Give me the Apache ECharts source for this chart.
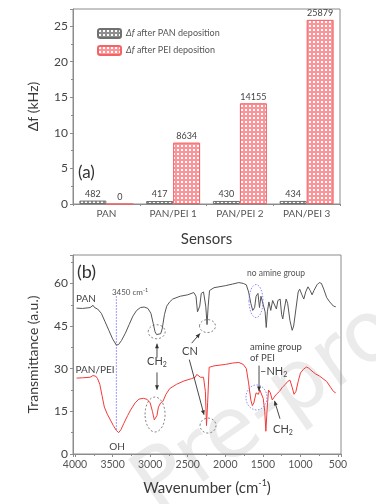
<!DOCTYPE html>
<html><head><meta charset="utf-8">
<script src="https://cdn.jsdelivr.net/npm/echarts@6/dist/echarts.min.js"></script>
<style>html,body{margin:0;padding:0;background:#fff}#c{width:376px;height:504px}</style>
</head><body><div id="c"></div>
<script>
// ---- data ----
const categories = ['PAN', 'PAN/PEI 1', 'PAN/PEI 2', 'PAN/PEI 3'];
const panDepositionHz = [482, 417, 430, 434];
const peiDepositionHz = [0, 8634, 14155, 25879];

const spectrumPAN = [
[3980,51.3],[3900,51.2],[3800,51.5],[3760,52.3],[3740,51.5],[3720,52.0],[3700,51.0],[3650,49.5],[3600,46.5],[3550,43.5],[3500,40.5],[3450,38.3],[3420,38.5],[3380,40],[3330,42.5],[3280,45.5],[3230,48.5],[3180,50.5],[3130,51.5],[3080,51.7],[3030,51.2],[2990,49.5],[2960,46],[2935,43],[2915,42],[2890,42.6],[2860,42.3],[2840,44],[2810,49],[2780,52],[2740,53.5],[2700,54.5],[2600,55.5],[2500,56],[2420,56.8],[2390,55.5],[2370,50],[2355,49.5],[2340,52],[2320,56.5],[2290,57],[2260,52],[2243,45.5],[2228,52],[2210,57.5],[2150,58.5],[2000,59.2],[1900,59.8],[1820,60.3],[1760,60],[1720,59.5],[1690,57],[1660,53],[1635,50.5],[1610,51.5],[1590,55.5],[1565,56.5],[1545,51.5],[1525,55.5],[1505,55.5],[1470,50],[1455,44.5],[1440,50],[1420,53.5],[1395,50.5],[1370,54],[1350,54],[1320,51],[1300,54],[1270,54.5],[1250,49],[1235,47.5],[1215,51],[1190,54.5],[1170,53],[1140,47],[1110,43.5],[1090,45],[1060,51],[1030,57],[1010,58],[980,56],[955,54.5],[930,57],[900,58.8],[870,57.5],[845,56],[820,57.5],[780,59.5],[750,60.3],[720,60],[690,58],[650,55],[610,53.5],[560,52],[530,51.8]
];
const spectrumPANPEI = [
[3980,26.7],[3900,26.8],[3800,27.0],[3760,27.6],[3740,27.0],[3720,27.3],[3700,26.5],[3670,24.5],[3640,20.5],[3610,16.5],[3570,14],[3530,12],[3490,10],[3450,8.3],[3420,7.5],[3390,8.5],[3350,10.8],[3300,13.5],[3260,15.5],[3200,18],[3150,19.3],[3090,19.6],[3040,19.2],[3000,18],[2970,15],[2945,12],[2930,11.3],[2910,13.5],[2890,16.5],[2860,18],[2830,18.5],[2790,21],[2740,23],[2650,24.5],[2550,25.7],[2450,26.5],[2400,27],[2380,28],[2360,27.5],[2330,27],[2290,27],[2265,22],[2250,10],[2235,18],[2215,30.5],[2150,31],[2000,31.5],[1900,32],[1820,32.2],[1760,31.5],[1720,30],[1690,25],[1660,19],[1640,17],[1620,18],[1590,21.5],[1560,21],[1540,22.5],[1515,22],[1495,19.5],[1475,15],[1460,8],[1445,15],[1425,22.5],[1400,21.5],[1375,19],[1350,20],[1320,21],[1280,22],[1240,23.5],[1200,24.5],[1170,25.5],[1140,26],[1110,23.5],[1085,21],[1060,22],[1030,25.5],[1000,28.5],[960,29.8],[920,30.6],[890,30.2],[860,29.5],[830,28.8],[800,28.2],[780,28.6],[750,27.5],[700,26.5],[650,25.5],[600,23.5],[560,22],[530,21.5]
];
const marker3450 = 3450;

// ---- styles ----
const FONT = 'Lato';
function pattern(line, bg) {
  const c = document.createElement('canvas'); c.width = 4; c.height = 4;
  const g = c.getContext('2d');
  g.fillStyle = line; g.fillRect(0, 0, 4, 4);
  g.fillStyle = bg; g.fillRect(1, 1, 2, 2);
  return { image: c, repeat: 'repeat' };
}
const grayPat = pattern('#8f8f8f', '#ffffff');
const redPat = pattern('#f8969a', '#ffffff');

const chart = echarts.init(document.getElementById('c'), null, { renderer: 'canvas' });
const axisColor = '#8c8c8c';
const txt = '#3a3a3a';

const option = {
  animation: false,
  textStyle: { fontFamily: FONT },
  grid: [
    { left: 73, top: 9, width: 267, height: 195, show: true, borderColor: axisColor, borderWidth: 1 },
    { left: 73, top: 255, width: 268, height: 199, show: true, borderColor: axisColor, borderWidth: 1 }
  ],
  legend: {
    left: 92, top: 23, orient: 'vertical', itemWidth: 23, itemHeight: 9, itemGap: 6,
    textStyle: { fontSize: 9, color: '#555', fontFamily: FONT, rich: { i: { fontStyle: 'italic', fontSize: 9, color: '#555' } } },
    formatter: n => n.replace('Δf', '{i|Δf}'),
    data: ['Δf after PAN deposition', 'Δf after PEI deposition']
  },
  xAxis: [
    { type: 'category', gridIndex: 0, data: categories,
      axisLine: { lineStyle: { color: axisColor } },
      axisTick: { show: true, length: 2, lineStyle: { color: axisColor } },
      axisLabel: { fontSize: 10, color: '#555', margin: 5 },
      name: 'Sensors', nameLocation: 'middle', nameGap: 28,
      nameTextStyle: { fontSize: 15, color: txt } },
    { type: 'value', gridIndex: 1, inverse: true, min: 460, max: 4027, splitNumber: 7,
      splitLine: { show: false },
      axisLine: { lineStyle: { color: axisColor } },
      axisTick: { length: 3, lineStyle: { color: axisColor } },
      minorTick: { show: true, splitNumber: 2, length: 2, lineStyle: { color: axisColor } },
      axisLabel: { fontSize: 10.5, color: '#555', margin: 5, showMinLabel: false, showMaxLabel: false, formatter: v => String(v) },
      name: '{n|Wavenumber (cm}{s|-1}{n|)}', nameLocation: 'middle', nameGap: 25,
      nameTextStyle: { rich: { n: { fontSize: 15, color: txt, lineHeight: 18, fontFamily: FONT }, s: { fontSize: 9, color: txt, lineHeight: 10, verticalAlign: 'top', fontFamily: FONT } } } }
  ],
  yAxis: [
    { type: 'value', gridIndex: 0, min: 0, max: 27.4, interval: 5,
      splitLine: { show: false },
      axisLine: { show: true, lineStyle: { color: axisColor } },
      axisTick: { show: true, length: 3, lineStyle: { color: axisColor } },
      minorTick: { show: true, splitNumber: 2, length: 2, lineStyle: { color: axisColor } },
      axisLabel: { fontSize: 12, color: '#444', margin: 5, showMaxLabel: false },
      name: 'Δf (kHz)', nameLocation: 'middle', nameGap: 33,
      nameTextStyle: { fontSize: 14, color: txt } },
    { type: 'value', gridIndex: 1, min: 0, max: 70, interval: 15,
      splitLine: { show: false },
      axisLine: { show: true, lineStyle: { color: axisColor } },
      axisTick: { show: true, length: 3, lineStyle: { color: axisColor } },
      minorTick: { show: true, splitNumber: 2, length: 2, lineStyle: { color: axisColor } },
      axisLabel: { fontSize: 12, color: '#444', margin: 5, showMaxLabel: false },
      name: 'Transmittance (a.u.)', nameLocation: 'middle', nameGap: 33,
      nameTextStyle: { fontSize: 14, color: txt } }
  ],
  series: [
    { name: 'Δf after PAN deposition', type: 'bar', xAxisIndex: 0, yAxisIndex: 0,
      data: panDepositionHz.map(v => v / 1000), barWidth: 27, barGap: '0%',
      itemStyle: { color: grayPat, borderColor: '#707070', borderWidth: 1 },
      label: { show: true, position: 'top', distance: 2, fontSize: 9, color: '#444', formatter: p => panDepositionHz[p.dataIndex] } },
    { name: 'Δf after PEI deposition', type: 'bar', xAxisIndex: 0, yAxisIndex: 0,
      data: peiDepositionHz.map(v => v / 1000), barWidth: 27, barGap: '0%',
      itemStyle: { color: redPat, borderColor: '#f26466', borderWidth: 1 },
      label: { show: true, position: 'top', distance: 2, fontSize: 9, color: '#444', formatter: p => peiDepositionHz[p.dataIndex] } },
    { name: 'PAN', type: 'line', xAxisIndex: 1, yAxisIndex: 1, data: spectrumPAN, showSymbol: false,
      lineStyle: { color: '#555', width: 1 }, z: 3 },
    { name: 'PAN/PEI', type: 'line', xAxisIndex: 1, yAxisIndex: 1, data: spectrumPANPEI, showSymbol: false,
      lineStyle: { color: '#f23a3a', width: 1 }, z: 3 },
    { name: 'marker', type: 'line', xAxisIndex: 1, yAxisIndex: 1, data: [[marker3450, 55.5], [marker3450, 8]], showSymbol: false,
      lineStyle: { color: '#7a7aff', width: 1, type: [1.5, 1.5] }, z: 2 }
  ]
};
chart.setOption(option);

// ---- annotations (in data coordinates of panel b) ----
const P = (x, y) => chart.convertToPixel({ xAxisIndex: 1, yAxisIndex: 1 }, [x, y]);
const G = [];
function text(x, y, str, size, opts) {
  const p = P(x, y);
  G.push({ type: 'text', x: p[0], y: p[1], z: 10, style: Object.assign({ text: str, fill: '#444', font: size + 'px ' + FONT, textAlign: 'center', textVerticalAlign: 'middle' }, opts || {}) });
}
function richText(x, y, str, rich, align) {
  const p = P(x, y);
  G.push({ type: 'text', x: p[0], y: p[1], z: 10, style: { text: str, rich: rich, align: align || 'center', verticalAlign: 'middle', fill: '#444', fontFamily: FONT } });
}
function ellipse(x, y, rx, ry, color, dash) {
  const p = P(x, y);
  G.push({ type: 'ellipse', z: 10, shape: { cx: p[0], cy: p[1], rx: rx, ry: ry }, style: { fill: 'none', stroke: color, lineWidth: 0.8, lineDash: dash } });
}
function arrow(x1, y1, x2, y2) {
  const a = P(x1, y1), b = P(x2, y2);
  G.push({ type: 'line', z: 10, shape: { x1: a[0], y1: a[1], x2: b[0], y2: b[1] }, style: { stroke: '#333', lineWidth: 0.9 } });
  const ang = Math.atan2(b[1] - a[1], b[0] - a[0]), L = 4.5, W = 2;
  const bx = b[0] - L * Math.cos(ang), by = b[1] - L * Math.sin(ang);
  G.push({ type: 'polygon', z: 10, shape: { points: [[b[0], b[1]], [bx + W * Math.sin(ang), by - W * Math.cos(ang)], [bx - W * Math.sin(ang), by + W * Math.cos(ang)]] }, style: { fill: '#333' } });
}
const sub = { n: { fontSize: 11, fill: '#444', fontFamily: FONT }, s: { fontSize: 7, fill: '#444', fontFamily: FONT, padding: [6, 0, 0, 0] } };
const sup = { n: { fontSize: 8, fill: '#555', fontFamily: FONT }, s: { fontSize: 5.5, fill: '#555', fontFamily: FONT, padding: [0, 0, 4, 0] } };

richText(3268, 56.8, '{n|3450 cm}{s|-1}', sup);
text(3854, 54.7, 'PAN', 10, { fill: '#444' });
text(3734, 29.6, 'PAN/PEI', 10, { fill: '#444' });
text(3441, 2.5, 'OH', 10);
richText(2909, 32.5, '{n|CH}{s|2}', sub);
arrow(2909, 33.9, 2909, 38.8);
arrow(2909, 28.7, 2909, 22.6);
ellipse(2913, 43, 8.5, 7, '#666', [2, 2]);
ellipse(2935, 13.9, 10, 17.5, '#666', [2, 2]);
ellipse(2237, 45, 8, 6.5, '#666', [2, 2]);
ellipse(2230, 10, 8, 7.5, '#666', [2, 2]);
text(2470, 36, 'CN', 11);
arrow(2447, 39, 2336, 42.4);
arrow(2479, 33.2, 2283, 13.8);
text(1325, 63.5, 'no amine group', 8.5, { fill: '#555' });
ellipse(1591, 53.8, 7, 16.5, '#7070ff', [1.5, 1.5]);
text(1671, 37.8, 'amine group', 9.5, { textAlign: 'left' });
text(1671, 33.9, 'of PEI', 9.5, { textAlign: 'left' });
richText(1538, 28.9, '{n|–NH}{s|2}', sub, 'left');
arrow(1551, 31.1, 1551, 22.2);
ellipse(1585, 19.9, 10.5, 12.5, '#7070ff', [1.5, 1.5]);
richText(1232, 8.5, '{n|CH}{s|2}', sub);
arrow(1272, 12.4, 1345, 18.7);

// panel labels
G.push({ type: 'text', x: 78, y: 173, z: 10, style: { text: '(a)', font: '17px ' + FONT, fill: '#333', textVerticalAlign: 'middle' } });
G.push({ type: 'text', x: 77, y: 272, z: 10, style: { text: '(b)', font: '18px ' + FONT, fill: '#333', textVerticalAlign: 'middle' } });
// watermark
G.push({ type: 'text', x: 120, y: 462, rotation: 35 * Math.PI / 180, z: -10, silent: true,
  style: { text: 'Pre-proof', font: '84px "DejaVu Sans"', fill: '#ebebeb', textAlign: 'left', textVerticalAlign: 'alphabetic' } });

chart.setOption({ graphic: G });
</script>
</body></html>
